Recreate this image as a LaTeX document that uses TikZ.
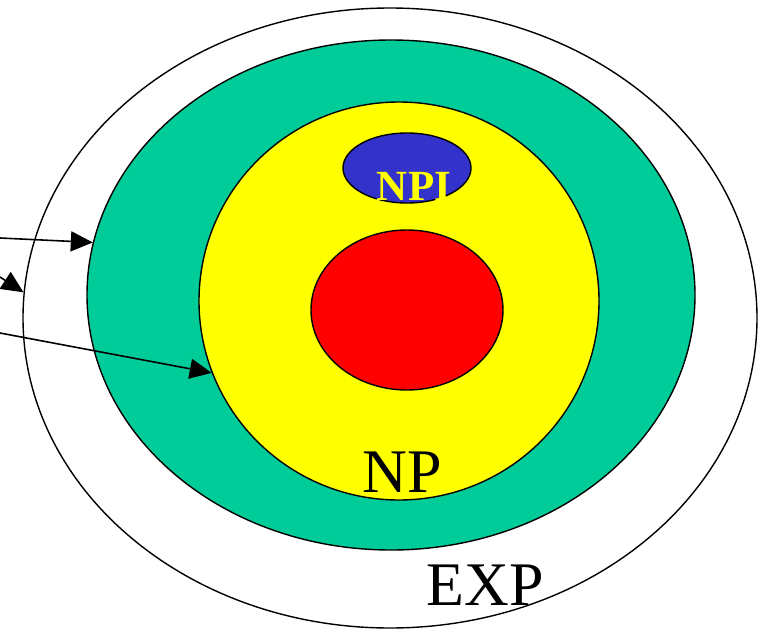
\documentclass[tikz,border=0pt]{standalone}
\usepackage{fontspec}
\setmainfont{Liberation Serif}
\usetikzlibrary{arrows.meta,shapes.geometric}
\definecolor{expgreen}{HTML}{00CC99}
\definecolor{npyellow}{HTML}{FFFF00}
\definecolor{npcred}{HTML}{FF0000}
\definecolor{npiblue}{HTML}{3333CC}

\begin{document}
\begin{tikzpicture}[x=1pt, y=-1pt, >={Triangle[length=22pt,width=20pt]},
  ring/.style={draw, ellipse, line width=1.4pt, inner sep=0pt},
  big/.style={font=\fontsize{62}{62}\selectfont}]
\useasboundingbox (0,0) rectangle (758,629);
\node[ring, fill=white, minimum width=734pt, minimum height=620pt] (exp) at (390,318) {};
\node[ring, fill=expgreen, minimum width=608pt, minimum height=510pt] (hard) at (391,295) {};
\node[ring, fill=npyellow, minimum width=400pt, minimum height=398pt] (np) at (399,301) {};
\node[ring, fill=npcred, minimum width=192pt, minimum height=160pt] (npc) at (407,310) {};
\node[ring, fill=npiblue, minimum width=128pt, minimum height=70pt] (npi) at (407,168) {};
\node[font=\fontsize{43}{43}\selectfont\bfseries, text=npyellow] (npilabel) at (414,186) {NPI};
\node[big] (nplabel) at (402,472) {NP};
\node[big] (explabel) at (485,585) {EXP};
% arrows coming in from the left
\coordinate (a1) at (0,238);
\coordinate (a2) at (0,277);
\coordinate (a3) at (0,333);
\draw[->, line width=1.6pt] (a1) -- (hard.170);
\draw[->, line width=1.6pt] (a2) -- (exp.176);
\draw[->, line width=1.6pt] (a3) -- (np.201);
\end{tikzpicture}
\end{document}
